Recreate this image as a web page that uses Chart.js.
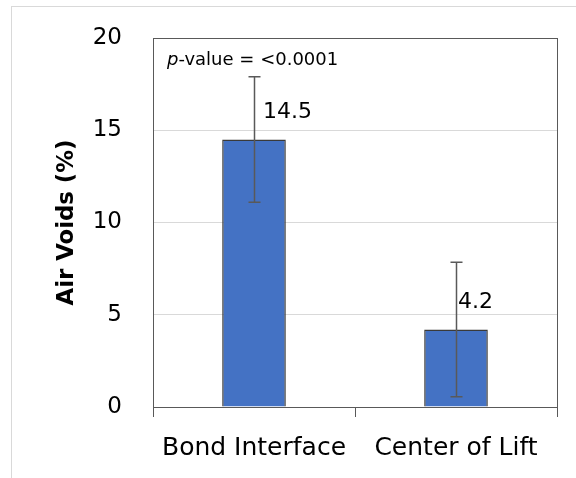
<!DOCTYPE html>
<html>
<head>
<meta charset="utf-8">
<script src="https://cdn.jsdelivr.net/npm/chart.js@4"></script>
<style>
  html, body { margin: 0; padding: 0; background: #fff; }
  #wrap { position: relative; width: 576px; height: 478px; overflow: hidden; }
  #frame { position: absolute; left: 11px; top: 6px; width: 600px; height: 500px; border: 1px solid #d9d9d9; }
  canvas { position: absolute; left: 0; top: 0; }
</style>
</head>
<body>
<div id="wrap">
  <div id="frame"></div>
  <canvas id="chart" width="576" height="478"></canvas>
</div>
<script>
// chart data
const categories = ['Bond Interface', 'Center of Lift'];
const airVoids = [14.5, 4.2];
const errorBars = [3.4, 3.65];
const yTicks = [0, 5, 10, 15, 20];
const note = ['p', '-value = <0.0001'];

const axisColor = '#595959';
const fontName = '"DejaVu Sans"';
Chart.defaults.font.family = fontName;
Chart.defaults.color = '#000';

// box round the plot area (top and right sides)
const plotBorder = {
    id: 'plotBorder',
    afterDraw(chart) {
        const { ctx, chartArea } = chart;
        ctx.save();
        ctx.strokeStyle = axisColor;
        ctx.lineWidth = 1;
        ctx.strokeRect(chartArea.left + 0.5, chartArea.top + 0.5,
            chartArea.right - chartArea.left, chartArea.bottom - chartArea.top);
        ctx.restore();
    }
};

// error bars and value labels
const barExtras = {
    id: 'barExtras',
    afterDatasetsDraw(chart, args, opts) {
        const { ctx } = chart;
        const y = chart.scales.y;
        const meta = chart.getDatasetMeta(0);
        ctx.save();
        meta.data.forEach((bar, i) => {
            const v = airVoids[i];
            const e = errorBars[i];
            const top = y.getPixelForValue(v + e);
            const bottom = y.getPixelForValue(v - e);
            const x = Math.round(bar.x) + 0.5;
            ctx.strokeStyle = axisColor;
            ctx.lineWidth = 1.5;
            ctx.beginPath();
            ctx.moveTo(x, top);
            ctx.lineTo(x, bottom);
            ctx.moveTo(x - 6, top);
            ctx.lineTo(x + 6, top);
            ctx.moveTo(x - 6, bottom);
            ctx.lineTo(x + 6, bottom);
            ctx.stroke();

            ctx.fillStyle = '#000';
            ctx.font = '22px ' + fontName;
            ctx.textAlign = 'left';
            ctx.textBaseline = 'middle';
            ctx.fillText(v.toFixed(1), bar.x + opts.labelDx[i], y.getPixelForValue(v) - 27);
        });

        // p-value note
        const area = chart.chartArea;
        const nx = area.left + 14;
        const ny = area.top + 27;
        ctx.textBaseline = 'alphabetic';
        ctx.font = 'italic 18px ' + fontName;
        ctx.fillText(note[0], nx, ny);
        const w = ctx.measureText(note[0]).width;
        ctx.font = '18px ' + fontName;
        ctx.fillText(note[1], nx + w, ny);
        ctx.restore();
    }
};

const ctx = document.getElementById('chart').getContext('2d');
const chart = new Chart(ctx, {
    type: 'bar',
    data: {
        labels: categories,
        datasets: [{
            data: airVoids,
            backgroundColor: '#4472c4',
            borderColor: '#3a3a3a',
            borderWidth: 1.5,
            barPercentage: 0.315,
            categoryPercentage: 1
        }]
    },
    options: {
        responsive: false,
        animation: false,
        layout: { padding: { left: 0, right: 19, top: 38, bottom: 0 } },
        plugins: {
            legend: { display: false },
            tooltip: { enabled: false },
            barExtras: { labelDx: [9, 2] }
        },
        scales: {
            x: {
                grid: { offset: true, drawOnChartArea: false, color: axisColor, tickLength: 10 },
                border: { color: axisColor, width: 1 },
                ticks: { font: { size: 25 }, padding: 16, maxRotation: 0 },
                afterFit: (scale) => { scale.height = 71; }
            },
            y: {
                min: 0,
                max: 20,
                grid: { color: '#d9d9d9', drawTicks: false },
                border: { color: axisColor, width: 1 },
                ticks: { font: { size: 23 }, padding: 31 },
                afterBuildTicks: (scale) => { scale.ticks = yTicks.map(v => ({ value: v })); },
                afterFit: (scale) => {
                    scale.width = 153;
                    // tick padding should not push the plot top down
                    scale.paddingTop = 0;
                    scale.paddingBottom = 0;
                },
                title: {
                    display: true,
                    text: 'Air Voids (%)',
                    font: { size: 22.8, weight: 'bold' },
                    padding: { top: 53, bottom: 0 }
                }
            }
        }
    },
    plugins: [plotBorder, barExtras]
});
</script>
</body>
</html>
